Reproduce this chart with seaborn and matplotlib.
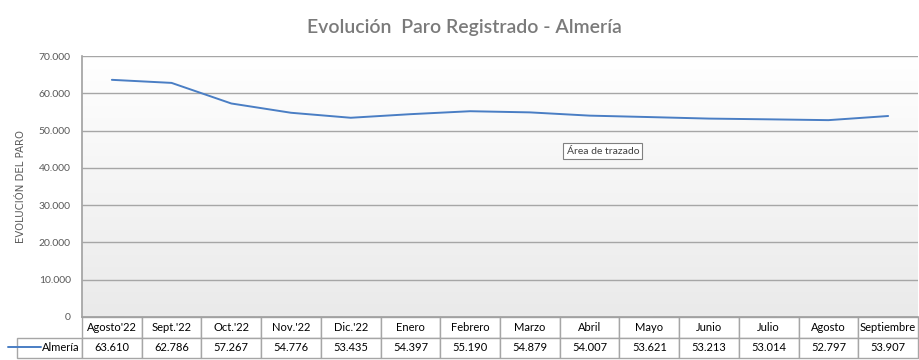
import numpy as np
import pandas as pd
import matplotlib
matplotlib.use("Agg")
import matplotlib.pyplot as plt
from matplotlib.ticker import FuncFormatter, MultipleLocator
import seaborn as sns

months = ["Agosto'22", "Sept.'22", "Oct.'22", "Nov.'22", "Dic.'22", "Enero", "Febrero",
          "Marzo", "Abril", "Mayo", "Junio", "Julio", "Agosto", "Septiembre"]
almeria = [63610, 62786, 57267, 54776, 53435, 54397, 55190,
           54879, 54007, 53621, 53213, 53014, 52797, 53907]
series_name = "Almería"
title = "Evolución  Paro Registrado - Almería"
ylabel = "EVOLUCIÓN DEL PARO"

df = pd.DataFrame({"mes": months, "parados": almeria})

sns.set_style("white")
plt.rcParams["font.family"] = ["Lato", "DejaVu Sans"]

fig = plt.figure(figsize=(9.2, 3.6), dpi=100)
ax = fig.add_axes([82 / 920, 43 / 360, 836 / 920, 261 / 360])

# gradient plot-area background
grad = np.linspace(1, 0, 256).reshape(-1, 1)
ax.imshow(grad, cmap=matplotlib.colors.LinearSegmentedColormap.from_list("g", ["#EAEAEA", "#FFFFFF"]),
          aspect="auto", extent=[0, 1, 0, 1], transform=ax.transAxes, zorder=0)

sns.lineplot(data=df, x="mes", y="parados", ax=ax, color="#4A7EC4", linewidth=1.4,
             label=series_name, sort=False, zorder=3)

ax.set_xlim(-0.5, len(months) - 0.5)
ax.set_ylim(0, 70000)
ax.yaxis.set_major_locator(MultipleLocator(10000))
ax.yaxis.set_major_formatter(FuncFormatter(lambda v, p: f"{int(v):,}".replace(",", ".")))
ax.grid(axis="y", color="#A6A6A6", linewidth=1.0)
ax.set_axisbelow(False)
ax.tick_params(axis="y", labelsize=7.5, colors="#595959", length=0, pad=8)
ax.set_xticks(np.arange(len(months) + 1) - 0.5)
ax.set_xticklabels([])
ax.tick_params(axis="x", length=0)
ax.set_xlabel("")
ax.set_ylabel(ylabel, fontsize=7.3, color="#595959", labelpad=9, family=["DejaVu Sans"])
for s in ["top", "right"]:
    ax.spines[s].set_visible(False)
for s in ["left", "bottom"]:
    ax.spines[s].set_color("#A0A0A0")
    ax.spines[s].set_linewidth(1.2)

# data table below the plot (first column holds the legend key)
h = 41 / 261
lw = 65 / 836
tbl = ax.table(cellText=[[""] + [f"{v:,}".replace(",", ".") for v in almeria]],
               colLabels=[""] + months,
               colWidths=[lw] + [1 / len(months)] * len(months),
               cellLoc="center", bbox=[-lw, -h, 1 + lw, h])
tbl.auto_set_font_size(False)
tbl.set_fontsize(8)
for (r, c), cell in tbl.get_celld().items():
    cell.set_edgecolor("#A6A6A6")
    cell.set_linewidth(1.0)
    cell.set_facecolor("white")
    cell.get_text().set_color("#000000")
tbl[0, 0].visible_edges = ""
tbl[0, 0].set_facecolor("none")

leg = ax.legend(loc="center right", bbox_to_anchor=(-0.001, -0.118), frameon=False,
                fontsize=8, handlelength=3.0, handletextpad=0.1, borderaxespad=0,
                borderpad=0.1)
for t in leg.get_texts():
    t.set_color("#000000")

ax.text(0.623, 0.636, "Área de trazado", transform=ax.transAxes, ha="center", va="center",
        fontsize=7.5, color="#404040", zorder=5,
        bbox=dict(boxstyle="square,pad=0.3", facecolor="white", edgecolor="#808080", linewidth=0.8))

fig.text(0.505, 0.925, title, ha="center", va="center", fontsize=14,
         fontweight="semibold", color="#7A7A7A")

fig.savefig("out.png", dpi=100)
